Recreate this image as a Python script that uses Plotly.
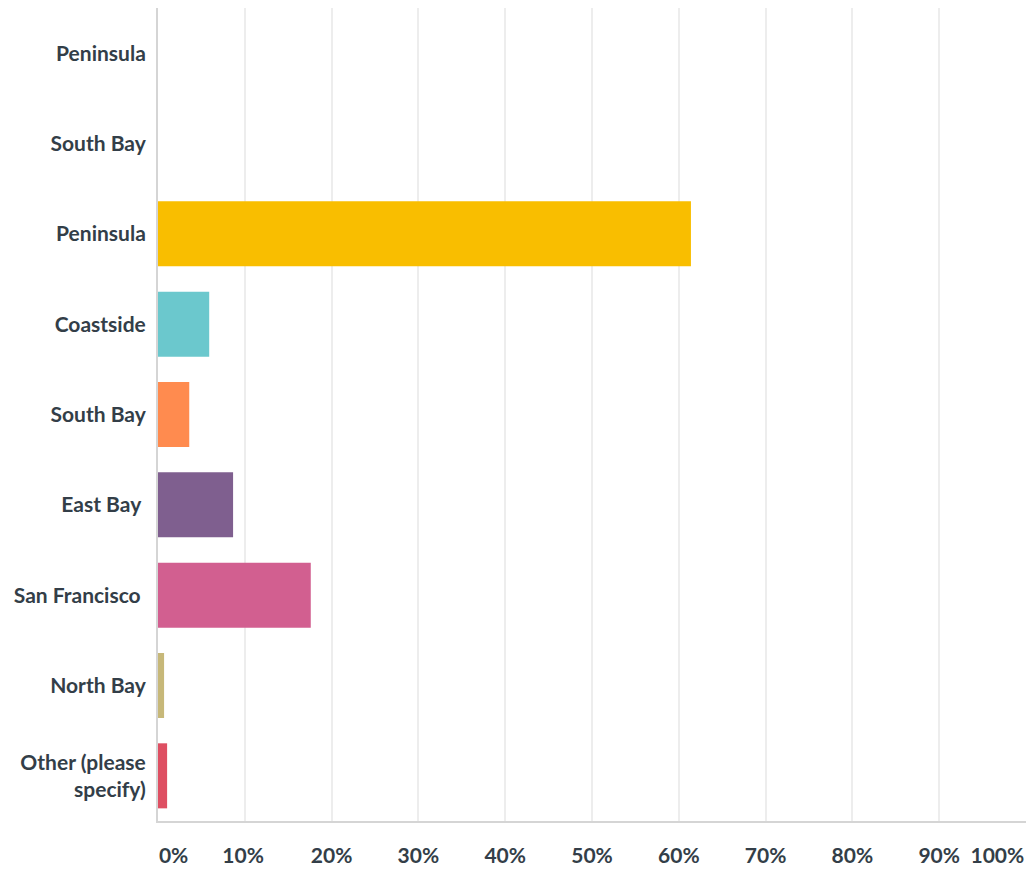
import plotly.graph_objects as go

categories = ["Peninsula", "South Bay", "Peninsula", "Coastside", "South Bay",
              "East Bay ", "San Francisco ", "North Bay", "Other (please<br>specify)"]
values = [0.0, 0.0, 61.4, 5.9, 3.6, 8.65, 17.6, 0.7, 1.05]
colors = ["#F9BE00", "#6BC8CD", "#F9BE00", "#6BC8CD", "#FF8B4F",
          "#7F5F8F", "#D25F90", "#C7B879", "#DE4F62"]
tick_values = [0, 10, 20, 30, 40, 50, 60, 70, 80, 90, 100]
tick_labels = ["0%", "10%", "20%", "30%", "40%", "50%", "60%", "70%", "80%", "90%", "100%"]
# label positions nudged inward at the ends (as in the reference)
label_positions = [1.8, 9.8, 20, 30, 40, 50, 60, 70, 80, 90, 96.7]

ypos = list(range(len(categories)))

fig = go.Figure(go.Bar(
    x=values, y=ypos, orientation="h",
    marker=dict(color=colors, line=dict(width=0)),
    width=0.72, hoverinfo="skip",
))

font_family = "Lato"
fig.update_layout(
    width=1028, height=869,
    margin=dict(l=158, r=2, t=8, b=44),
    plot_bgcolor="white", paper_bgcolor="white",
    showlegend=False,
    font=dict(family=font_family, size=21, color="#333E48"),
    xaxis=dict(
        range=[0, 100], tickvals=label_positions, ticktext=tick_labels,
        showgrid=False, zeroline=False,
        showline=True, linecolor="#D5D5D5", linewidth=2,
        ticks="outside", ticklen=15, tickcolor="rgba(0,0,0,0)",
        tickfont=dict(family=font_family, size=21, color="#333E48", weight=700),
        minor=dict(tickvals=tick_values, showgrid=True, gridcolor="#EDEDED", gridwidth=2, ticks=""),
        fixedrange=True,
    ),
    yaxis=dict(
        range=[len(categories) - 0.5, -0.5],
        tickvals=ypos, ticktext=categories,
        showgrid=False, zeroline=False,
        showline=True, linecolor="#D5D5D5", linewidth=2,
        ticks="outside", ticklen=6, tickcolor="rgba(0,0,0,0)",
        tickfont=dict(family=font_family, size=21, color="#333E48", weight=700),
        fixedrange=True,
    ),
)

fig.write_html(
    "out.html",
    config={"displayModeBar": False},
    post_script="document.body.style.margin='0';document.body.style.overflow='hidden';",
)
